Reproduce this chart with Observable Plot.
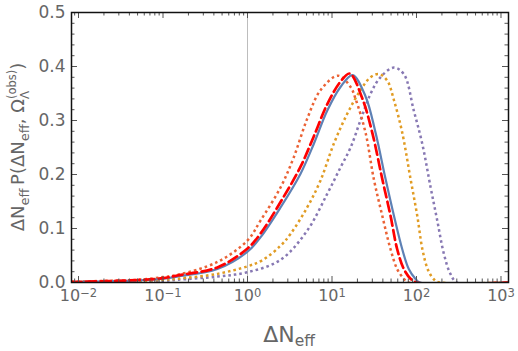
<!DOCTYPE html>
<html><head><meta charset="utf-8">
<script src="https://cdn.jsdelivr.net/npm/d3@7"></script>
<script src="https://cdn.jsdelivr.net/npm/@observablehq/plot@0.6"></script>
<style>body{margin:0;background:#fff}</style>
</head><body><div id="chart"></div>
<script>
// ---- data ----
const tomatoX = [0.0083, 0.01, 0.02, 0.05, 0.1, 0.147, 0.44, 1, 1.43, 2.46, 3.53, 5.08, 7.31, 11.8, 16.6, 19, 24.9, 31.2, 39.3, 49.2, 59, 70.8, 80, 1227];
const tomatoY = [0.0012, 0.0015, 0.003, 0.005, 0.010, 0.014, 0.038, 0.078, 0.115, 0.176, 0.232, 0.303, 0.356, 0.383, 0.362, 0.340, 0.278, 0.192, 0.124, 0.062, 0.025, 0.007, 0, 0];

const redX = [0.0083, 0.05, 0.1, 0.147, 0.44, 1, 1.43, 2.46, 4.23, 6.1, 8.77, 12.6, 16.2, 22.7, 29.9, 39.3, 49.2, 59, 70.8, 85, 100, 1227];
const redY = [0.001, 0.0045, 0.008, 0.013, 0.028, 0.063, 0.091, 0.149, 0.214, 0.271, 0.330, 0.372, 0.387, 0.342, 0.278, 0.192, 0.124, 0.062, 0.025, 0.007, 0, 0];

const blueX = [0.0083, 0.05, 0.1, 0.147, 0.44, 1, 1.43, 2.46, 4.23, 6.1, 8.77, 12.6, 17.5, 24.9, 32.7, 43, 54, 67.7, 81, 97, 110, 1227];
const blueY = [0.0008, 0.004, 0.007, 0.011, 0.025, 0.057, 0.084, 0.139, 0.201, 0.257, 0.318, 0.362, 0.384, 0.345, 0.278, 0.192, 0.124, 0.062, 0.025, 0.007, 0, 0];

const orangeX = [0.0083, 0.05, 0.1, 0.147, 0.44, 1, 1.49, 2.46, 3.23, 5.08, 7.31, 10.5, 15.1, 21.7, 28.5, 35.8, 45, 54, 67.7, 85, 102, 118, 138, 165, 190, 1227];
const orangeY = [0.0006, 0.003, 0.005, 0.007, 0.016, 0.030, 0.041, 0.068, 0.090, 0.139, 0.189, 0.257, 0.312, 0.356, 0.380, 0.386, 0.374, 0.338, 0.278, 0.192, 0.124, 0.060, 0.022, 0.004, 0, 0];

const purpleX = [0.0083, 0.05, 0.1, 0.147, 0.44, 1, 2.46, 5.08, 8.77, 12.6, 16.6, 21.7, 28.5, 37.4, 54, 70.8, 93, 117, 147, 176, 211, 252, 302, 1227];
const purpleY = [0.0005, 0.002, 0.003, 0.005, 0.011, 0.019, 0.042, 0.096, 0.164, 0.213, 0.250, 0.300, 0.349, 0.380, 0.398, 0.386, 0.318, 0.257, 0.176, 0.115, 0.053, 0.016, 0, 0];

const xDomain = [0.00826, 1227];
const yDomain = [0, 0.5];
const xTicksMajor = [0.01, 0.1, 1, 10, 100, 1000];
const xTickExp = ["\u22122", "\u22121", "0", "1", "2", "3"];
const yTicksMajor = [0, 0.1, 0.2, 0.3, 0.4, 0.5];
const refLineX = [1];

// ---- layout ----
const W = 518, H = 351, mL = 71, mR = 10, mT = 12, mB = 69;
const plotW = W - mL - mR, plotH = H - mT - mB;

const minorX = [];
for (let e = -3; e <= 3; e++) for (let k = 2; k <= 9; k++) {
  const v = k * Math.pow(10, e);
  if (v >= xDomain[0] && v <= xDomain[1]) minorX.push(v);
}
const minorY = [];
for (let i = 1; i < 25; i++) if (i % 5 !== 0) minorY.push(+(i * 0.02).toFixed(2));

const pts = (xs, ys) => xs.map((x, i) => ({x, y: ys[i]}));

const dotted = {strokeWidth: 2.5, strokeDasharray: "2.6,3", strokeLinecap: "butt"};
const tickStyle = {stroke: "#555", strokeOpacity: 1, strokeWidth: 1};
const curve = "catmull-rom";

const chart = Plot.plot({
  width: W, height: H,
  marginLeft: mL, marginRight: mR, marginTop: mT, marginBottom: mB,
  style: {fontFamily: "DejaVu Sans", fontSize: "17px", color: "#666", background: "white"},
  x: {type: "log", domain: xDomain},
  y: {domain: yDomain},
  marks: [
    Plot.ruleX(refLineX, {stroke: "#bdbdbd", strokeWidth: 1}),
    Plot.line(pts(purpleX, purpleY), {x: "x", y: "y", stroke: "#8778B3", curve, clip: true, ...dotted}),
    Plot.line(pts(orangeX, orangeY), {x: "x", y: "y", stroke: "#E19C24", curve, clip: true, ...dotted}),
    Plot.line(pts(tomatoX, tomatoY), {x: "x", y: "y", stroke: "#EB6235", curve, clip: true, ...dotted}),
    Plot.line(pts(blueX, blueY), {x: "x", y: "y", stroke: "#5E81B5", strokeWidth: 2.2, curve, clip: true}),
    Plot.line(pts(redX, redY), {x: "x", y: "y", stroke: "#FF0000", strokeWidth: 2.7, strokeDasharray: "10,4.5", curve, clip: true}),
    Plot.gridX(xTicksMajor, {...tickStyle, insetTop: plotH - 6}),
    Plot.gridX(xTicksMajor, {...tickStyle, insetBottom: plotH - 6}),
    Plot.gridX(minorX, {...tickStyle, insetTop: plotH - 3.5}),
    Plot.gridX(minorX, {...tickStyle, insetBottom: plotH - 3.5}),
    Plot.gridY(yTicksMajor, {...tickStyle, insetRight: plotW - 6}),
    Plot.gridY(yTicksMajor, {...tickStyle, insetLeft: plotW - 6}),
    Plot.gridY(minorY, {...tickStyle, insetRight: plotW - 3.5}),
    Plot.gridY(minorY, {...tickStyle, insetLeft: plotW - 3.5}),
    Plot.frame({stroke: "#111", strokeWidth: 1.5}),
    Plot.axisY(yTicksMajor, {tickSize: 0, tickPadding: 6, tickFormat: d3.format(".1f"), label: null, fontSize: 17}),
    Plot.axisX(xTicksMajor, {tickSize: 0, tickPadding: 7, tickFormat: () => "10", label: null, fontSize: 16})
  ]
});
document.getElementById("chart").appendChild(chart);

const svg = d3.select(chart);
// superscript exponents on the x tick labels
svg.selectAll('g[aria-label="x-axis tick label"] text').each(function(d, i) {
  d3.select(this).append("tspan").attr("dy", "-4").attr("font-size", "11.5px").text(xTickExp[i]);
});

function rich(sel, parts) {
  let cur = 0;
  const nodes = [];
  parts.forEach(p => {
    const ts = sel.append("tspan").text(p.t);
    if (p.size) ts.attr("font-size", p.size + "px");
    const shift = p.shift || 0;
    if (shift !== cur) ts.attr("dy", shift - cur);
    if (p.back != null) ts.attr("dx", -nodes[p.back].node().getComputedTextLength());
    cur = shift;
    nodes.push(ts);
  });
}

// y axis title, centred on the plot's vertical middle
const yg = svg.append("g").attr("transform", `translate(24,${mT + plotH / 2}) rotate(-90)`);
const yl = yg.append("text")
  .attr("fill", "#666").attr("font-family", "DejaVu Sans").attr("font-size", "18px");
rich(yl, [
  {t: "\u0394N"}, {t: "eff", size: 13, shift: 4.5},
  {t: "\u2009P(\u0394N", shift: 0}, {t: "eff", size: 13, shift: 4.5},
  {t: ", \u03A9", shift: 0}, {t: "\u039B", size: 12, shift: 4.5},
  {t: "(obs)", size: 11.5, shift: -8.5, back: 5},
  {t: ")", shift: 0}
]);
const yb = yl.node().getBBox();
yl.attr("x", -(yb.x + yb.width / 2));

// x axis title
const xl = svg.append("text")
  .attr("x", 289).attr("y", 342)
  .attr("text-anchor", "middle").attr("fill", "#666")
  .attr("font-family", "DejaVu Sans").attr("font-size", "22px");
rich(xl, [{t: "\u0394N"}, {t: "eff", size: 15.5, shift: 4}]);
</script>
</body></html>
